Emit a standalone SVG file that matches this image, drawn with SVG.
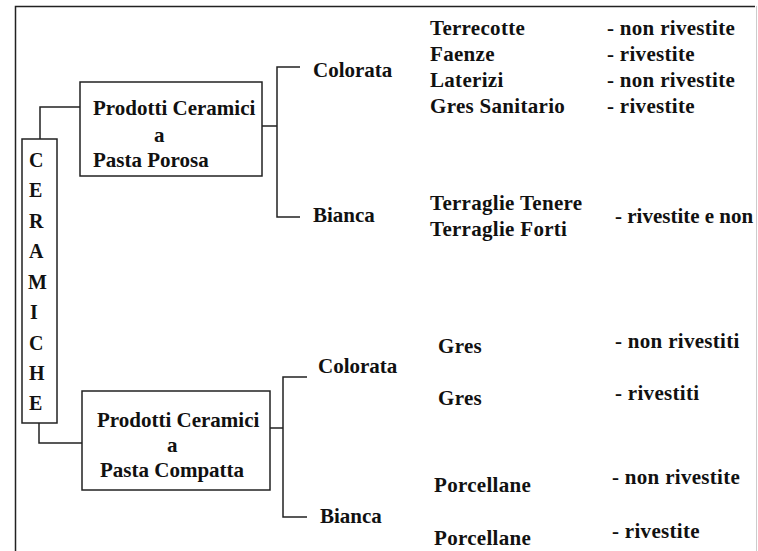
<svg xmlns="http://www.w3.org/2000/svg" width="758" height="551" viewBox="0 0 758 551">
<style>
.ln{fill:none;stroke:#222;stroke-width:1.5}
.bx{fill:#fff;stroke:#222;stroke-width:1.5}
.t{font-family:"Liberation Serif","Times New Roman",serif;font-weight:bold;font-size:21px;letter-spacing:0.3px;fill:#111}
.b{font-family:"Liberation Serif","Times New Roman",serif;font-weight:bold;font-size:21px;fill:#111}
.s{font-family:"Liberation Serif","Times New Roman",serif;font-weight:bold;font-size:20px;fill:#111}
</style>
<rect width="758" height="551" fill="#fff"/>
<g id="frame">
<path class="ln" d="M15.5,551 V6.5 H755"/>
<path d="M756.5,6 V551" stroke="#ccc" stroke-width="1" fill="none"/>
</g>
<g id="connectors">
<path class="ln" d="M40,139 V107 H80"/>
<path class="ln" d="M39,423 V443 H82"/>
<path class="ln" d="M262,126 H277 M300,67 H277 V217 H300"/>
<path class="ln" d="M270,428 H283 M307,377 H283 V517 H307"/>
</g>
<g id="ceramiche">
<rect class="bx" x="22" y="139" width="35" height="284"/>
<text class="s" x="29" y="167">C</text>
<text class="s" x="29" y="197">E</text>
<text class="s" x="29" y="228">R</text>
<text class="s" x="29" y="258">A</text>
<text class="s" x="28" y="289">M</text>
<text class="s" x="30" y="319">I</text>
<text class="s" x="29" y="350">C</text>
<text class="s" x="29" y="380">H</text>
<text class="s" x="29" y="410">E</text>
</g>
<g id="porosa">
<rect class="bx" x="80" y="82" width="182" height="94"/>
<text class="b" x="93" y="115">Prodotti Ceramici</text>
<text class="b" x="154" y="142">a</text>
<text class="b" x="93" y="167">Pasta Porosa</text>
</g>
<g id="compatta">
<rect class="bx" x="82" y="391" width="188" height="99"/>
<text class="b" x="97" y="427">Prodotti Ceramici</text>
<text class="b" x="167" y="452">a</text>
<text class="b" x="100" y="477">Pasta Compatta</text>
</g>
<g id="porosa-colorata">
<text class="b" x="313" y="77">Colorata</text>
<text class="t" x="430" y="35">Terrecotte</text>
<text class="t" x="430" y="61">Faenze</text>
<text class="t" x="430" y="87">Laterizi</text>
<text class="t" x="430" y="113">Gres Sanitario</text>
<text class="t" x="607" y="35">- non rivestite</text>
<text class="t" x="607" y="61">- rivestite</text>
<text class="t" x="607" y="87">- non rivestite</text>
<text class="t" x="607" y="113">- rivestite</text>
</g>
<g id="porosa-bianca">
<text class="b" x="313" y="222">Bianca</text>
<text class="t" x="430" y="210">Terraglie Tenere</text>
<text class="t" x="430" y="236">Terraglie Forti</text>
<text class="b" x="615" y="223">- rivestite e non</text>
</g>
<g id="compatta-colorata">
<text class="b" x="318" y="373">Colorata</text>
<text class="t" x="438" y="353">Gres</text>
<text class="t" x="438" y="405">Gres</text>
<text class="t" x="615" y="348">- non rivestiti</text>
<text class="t" x="615" y="400">- rivestiti</text>
</g>
<g id="compatta-bianca">
<text class="b" x="320" y="523">Bianca</text>
<text class="t" x="434" y="492">Porcellane</text>
<text class="t" x="434" y="545">Porcellane</text>
<text class="t" x="612" y="484">- non rivestite</text>
<text class="t" x="612" y="538">- rivestite</text>
</g>
</svg>
